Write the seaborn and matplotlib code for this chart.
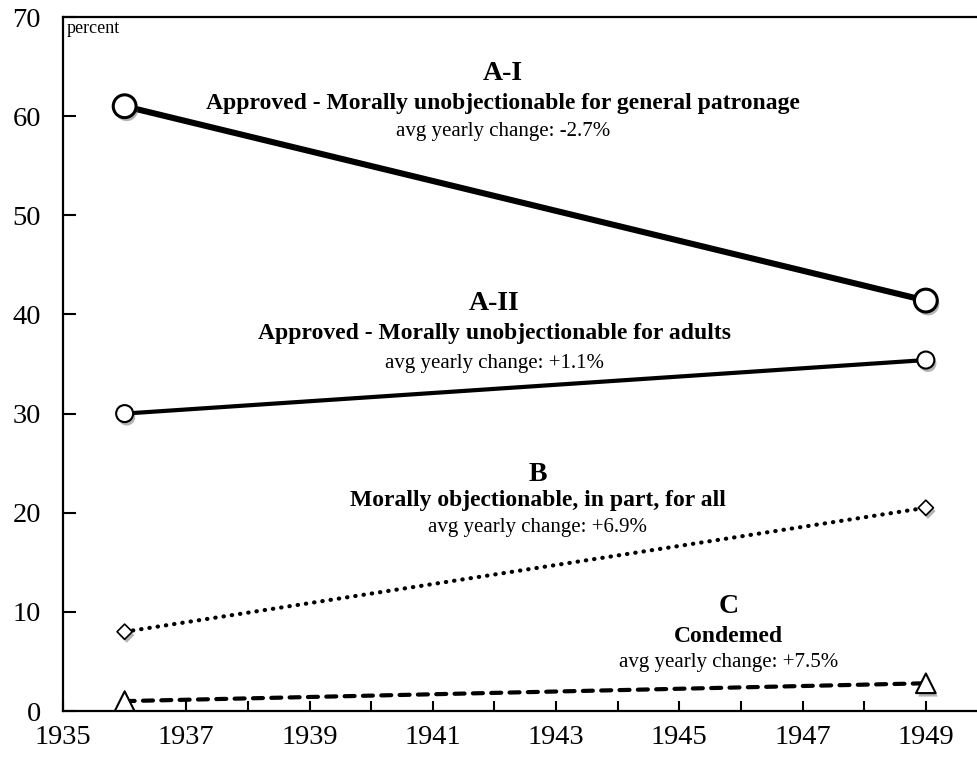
"""
Film ratings by category, 1936 vs 1949.
"""

import matplotlib
matplotlib.use("Agg")

import matplotlib.pyplot as plt
import matplotlib.patheffects as pe
import seaborn as sns


# ==========================================================
# Data
# ==========================================================

years = [1936, 1949]

approved_general = [61.0, 41.4]
approved_adults = [30.0, 35.4]
objectionable_part = [8.0, 20.5]
condemned = [1.0, 2.8]

x_ticks = [1935, 1937, 1939, 1941, 1943, 1945, 1947, 1949]
y_ticks = [0, 10, 20, 30, 40, 50, 60, 70]


# ==========================================================
# Figure
# ==========================================================

sns.set_style("ticks")
plt.rcParams["font.family"] = ["Liberation Serif", "DejaVu Serif"]
plt.rcParams["text.color"] = "black"
plt.rcParams["xtick.color"] = "black"
plt.rcParams["ytick.color"] = "black"

fig = plt.figure(figsize=(9.77, 7.59), dpi=100)
ax = fig.add_axes([0.0645, 0.0632, 0.9355, 0.9144])

shadow = [pe.SimplePatchShadow(offset=(1.5, -2.5), shadow_rgbFace="0.35",
                               alpha=0.45), pe.Normal()]

series = [
    (approved_general, "-", 4.4, "o", 270, 2.2),
    (approved_adults, "-", 3.0, "o", 150, 1.5),
    (objectionable_part, (0, (0.1, 1.9)), 3.0, "D", 60, 1.2),
    (condemned, (0, (2.4, 2.0)), 3.0, "^", 200, 1.5),
]

for values, style, width, marker, size, edge in series:

    line = sns.lineplot(
        x=years, y=values, ax=ax, color="black",
        linewidth=width, legend=False
    ).lines[-1]
    line.set_linestyle(style)
    line.set_dash_capstyle("round")
    line.set_solid_capstyle("round")

    points = sns.scatterplot(
        x=years, y=values, ax=ax, marker=marker, s=size,
        color="white", edgecolor="black", linewidth=edge,
        zorder=5, legend=False
    ).collections[-1]
    points.set_path_effects(shadow)


# ==========================================================
# Labels
# ==========================================================

labels = [
    (1942.14, [64.3, 61.3, 58.5], "A-I",
     "Approved - Morally unobjectionable for general patronage",
     "avg yearly change: -2.7%"),
    (1942.0, [41.1, 38.1, 35.1], "A-II",
     "Approved - Morally unobjectionable for adults",
     "avg yearly change: +1.1%"),
    (1942.7, [23.9, 21.2, 18.5], "B",
     "Morally objectionable, in part, for all",
     "avg yearly change: +6.9%"),
    (1945.8, [10.5, 7.5, 4.9], "C",
     "Condemed",
     "avg yearly change: +7.5%"),
]

for x_pos, y_pos, code, name, change in labels:
    ax.text(x_pos, y_pos[0], code, ha="center", va="center",
            fontsize=20, fontweight="bold")
    ax.text(x_pos, y_pos[1], name, ha="center", va="center",
            fontsize=17, fontweight="bold")
    ax.text(x_pos, y_pos[2], change, ha="center", va="center",
            fontsize=15)

ax.text(0.004, 0.995, "percent", transform=ax.transAxes,
        ha="left", va="top", fontsize=13)


# ==========================================================
# Axes
# ==========================================================

ax.set_xlim(1935, 1949.83)
ax.set_ylim(0, 70)

ax.set_xticks(x_ticks)
ax.set_xticks(range(1935, 1950), minor=True)
ax.set_yticks(y_ticks)

ax.tick_params(axis="both", which="both", direction="in",
               labelsize=20.5, width=1.5, color="black")
ax.tick_params(axis="x", which="both", length=7, pad=10)
ax.tick_params(axis="y", length=9, pad=16)

for side in ["left", "bottom", "top"]:
    ax.spines[side].set_linewidth(1.6)
    ax.spines[side].set_color("black")
ax.spines["right"].set_visible(False)

ax.set_xlabel("")
ax.set_ylabel("")

fig.savefig("out.png", dpi=100)
